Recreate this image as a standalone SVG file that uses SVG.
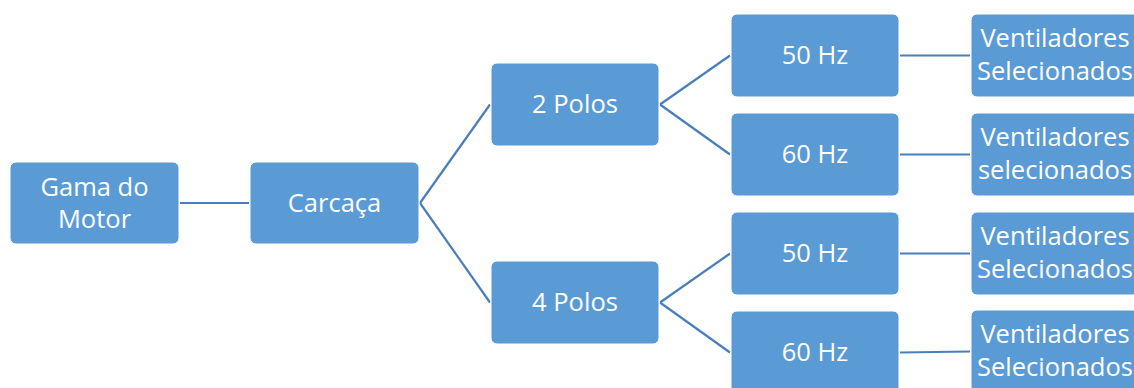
<svg xmlns="http://www.w3.org/2000/svg" width="1134" height="388" viewBox="0 0 1134 388">
  <style>
    .box { fill: #5B9BD5; stroke: #FFFFFF; stroke-width: 1; }
    .lbl { fill: #FFFFFF; font-family: "Open Sans", "Noto Sans", sans-serif; font-size: 25.5px; text-anchor: middle; }
    .edge { stroke: #4A7EBB; stroke-width: 2.2; fill: none; }
  </style>
  <rect width="1134" height="388" fill="#FFFFFF"/>

  <g id="connectors">
    <line class="edge" x1="180" y1="203" x2="249" y2="203"/>
    <line class="edge" x1="420" y1="203" x2="490" y2="104.5"/>
    <line class="edge" x1="420" y1="203" x2="490" y2="302.5"/>
    <line class="edge" x1="660" y1="104.5" x2="730" y2="55.5"/>
    <line class="edge" x1="660" y1="104.5" x2="730" y2="154.5"/>
    <line class="edge" x1="660" y1="302.5" x2="730" y2="253.5"/>
    <line class="edge" x1="660" y1="302.5" x2="730" y2="352.5"/>
    <line class="edge" x1="900" y1="55.5" x2="970" y2="55.5"/>
    <line class="edge" x1="900" y1="154.5" x2="970" y2="154.5"/>
    <line class="edge" x1="900" y1="253.5" x2="970" y2="253.5"/>
    <line class="edge" x1="900" y1="352.5" x2="970" y2="351.5"/>
  </g>

  <g id="gama">
    <rect class="box" x="10" y="162" width="169" height="82" rx="6"/>
    <text class="lbl" x="94.5" y="196">Gama do</text>
    <text class="lbl" x="94.5" y="228">Motor</text>
  </g>
  <g id="carcaca">
    <rect class="box" x="250" y="162" width="169" height="82" rx="6"/>
    <text class="lbl" x="334.5" y="212">Carcaça</text>
  </g>

  <g id="polos2">
    <rect class="box" x="491" y="63" width="168" height="83" rx="6"/>
    <text class="lbl" x="575" y="113">2 Polos</text>
  </g>
  <g id="polos4">
    <rect class="box" x="491" y="261" width="168" height="83" rx="6"/>
    <text class="lbl" x="575" y="311">4 Polos</text>
  </g>

  <g id="hz50a">
    <rect class="box" x="731" y="14" width="168" height="83" rx="6"/>
    <text class="lbl" x="815" y="64">50 Hz</text>
  </g>
  <g id="hz60a">
    <rect class="box" x="731" y="113" width="168" height="83" rx="6"/>
    <text class="lbl" x="815" y="163">60 Hz</text>
  </g>
  <g id="hz50b">
    <rect class="box" x="731" y="212" width="168" height="83" rx="6"/>
    <text class="lbl" x="815" y="262">50 Hz</text>
  </g>
  <g id="hz60b">
    <rect class="box" x="731" y="311" width="168" height="83" rx="6"/>
    <text class="lbl" x="815" y="361">60 Hz</text>
  </g>

  <g id="vent1">
    <rect class="box" x="971" y="14" width="168" height="83" rx="6"/>
    <text class="lbl" x="1055" y="47">Ventiladores</text>
    <text class="lbl" x="1055" y="80">Selecionados</text>
  </g>
  <g id="vent2">
    <rect class="box" x="971" y="113" width="168" height="83" rx="6"/>
    <text class="lbl" x="1055" y="146">Ventiladores</text>
    <text class="lbl" x="1055" y="179">selecionados</text>
  </g>
  <g id="vent3">
    <rect class="box" x="971" y="212" width="168" height="83" rx="6"/>
    <text class="lbl" x="1055" y="245">Ventiladores</text>
    <text class="lbl" x="1055" y="278">Selecionados</text>
  </g>
  <g id="vent4">
    <rect class="box" x="971" y="310" width="168" height="83" rx="6"/>
    <text class="lbl" x="1055" y="343">Ventiladores</text>
    <text class="lbl" x="1055" y="376">Selecionados</text>
  </g>
</svg>
